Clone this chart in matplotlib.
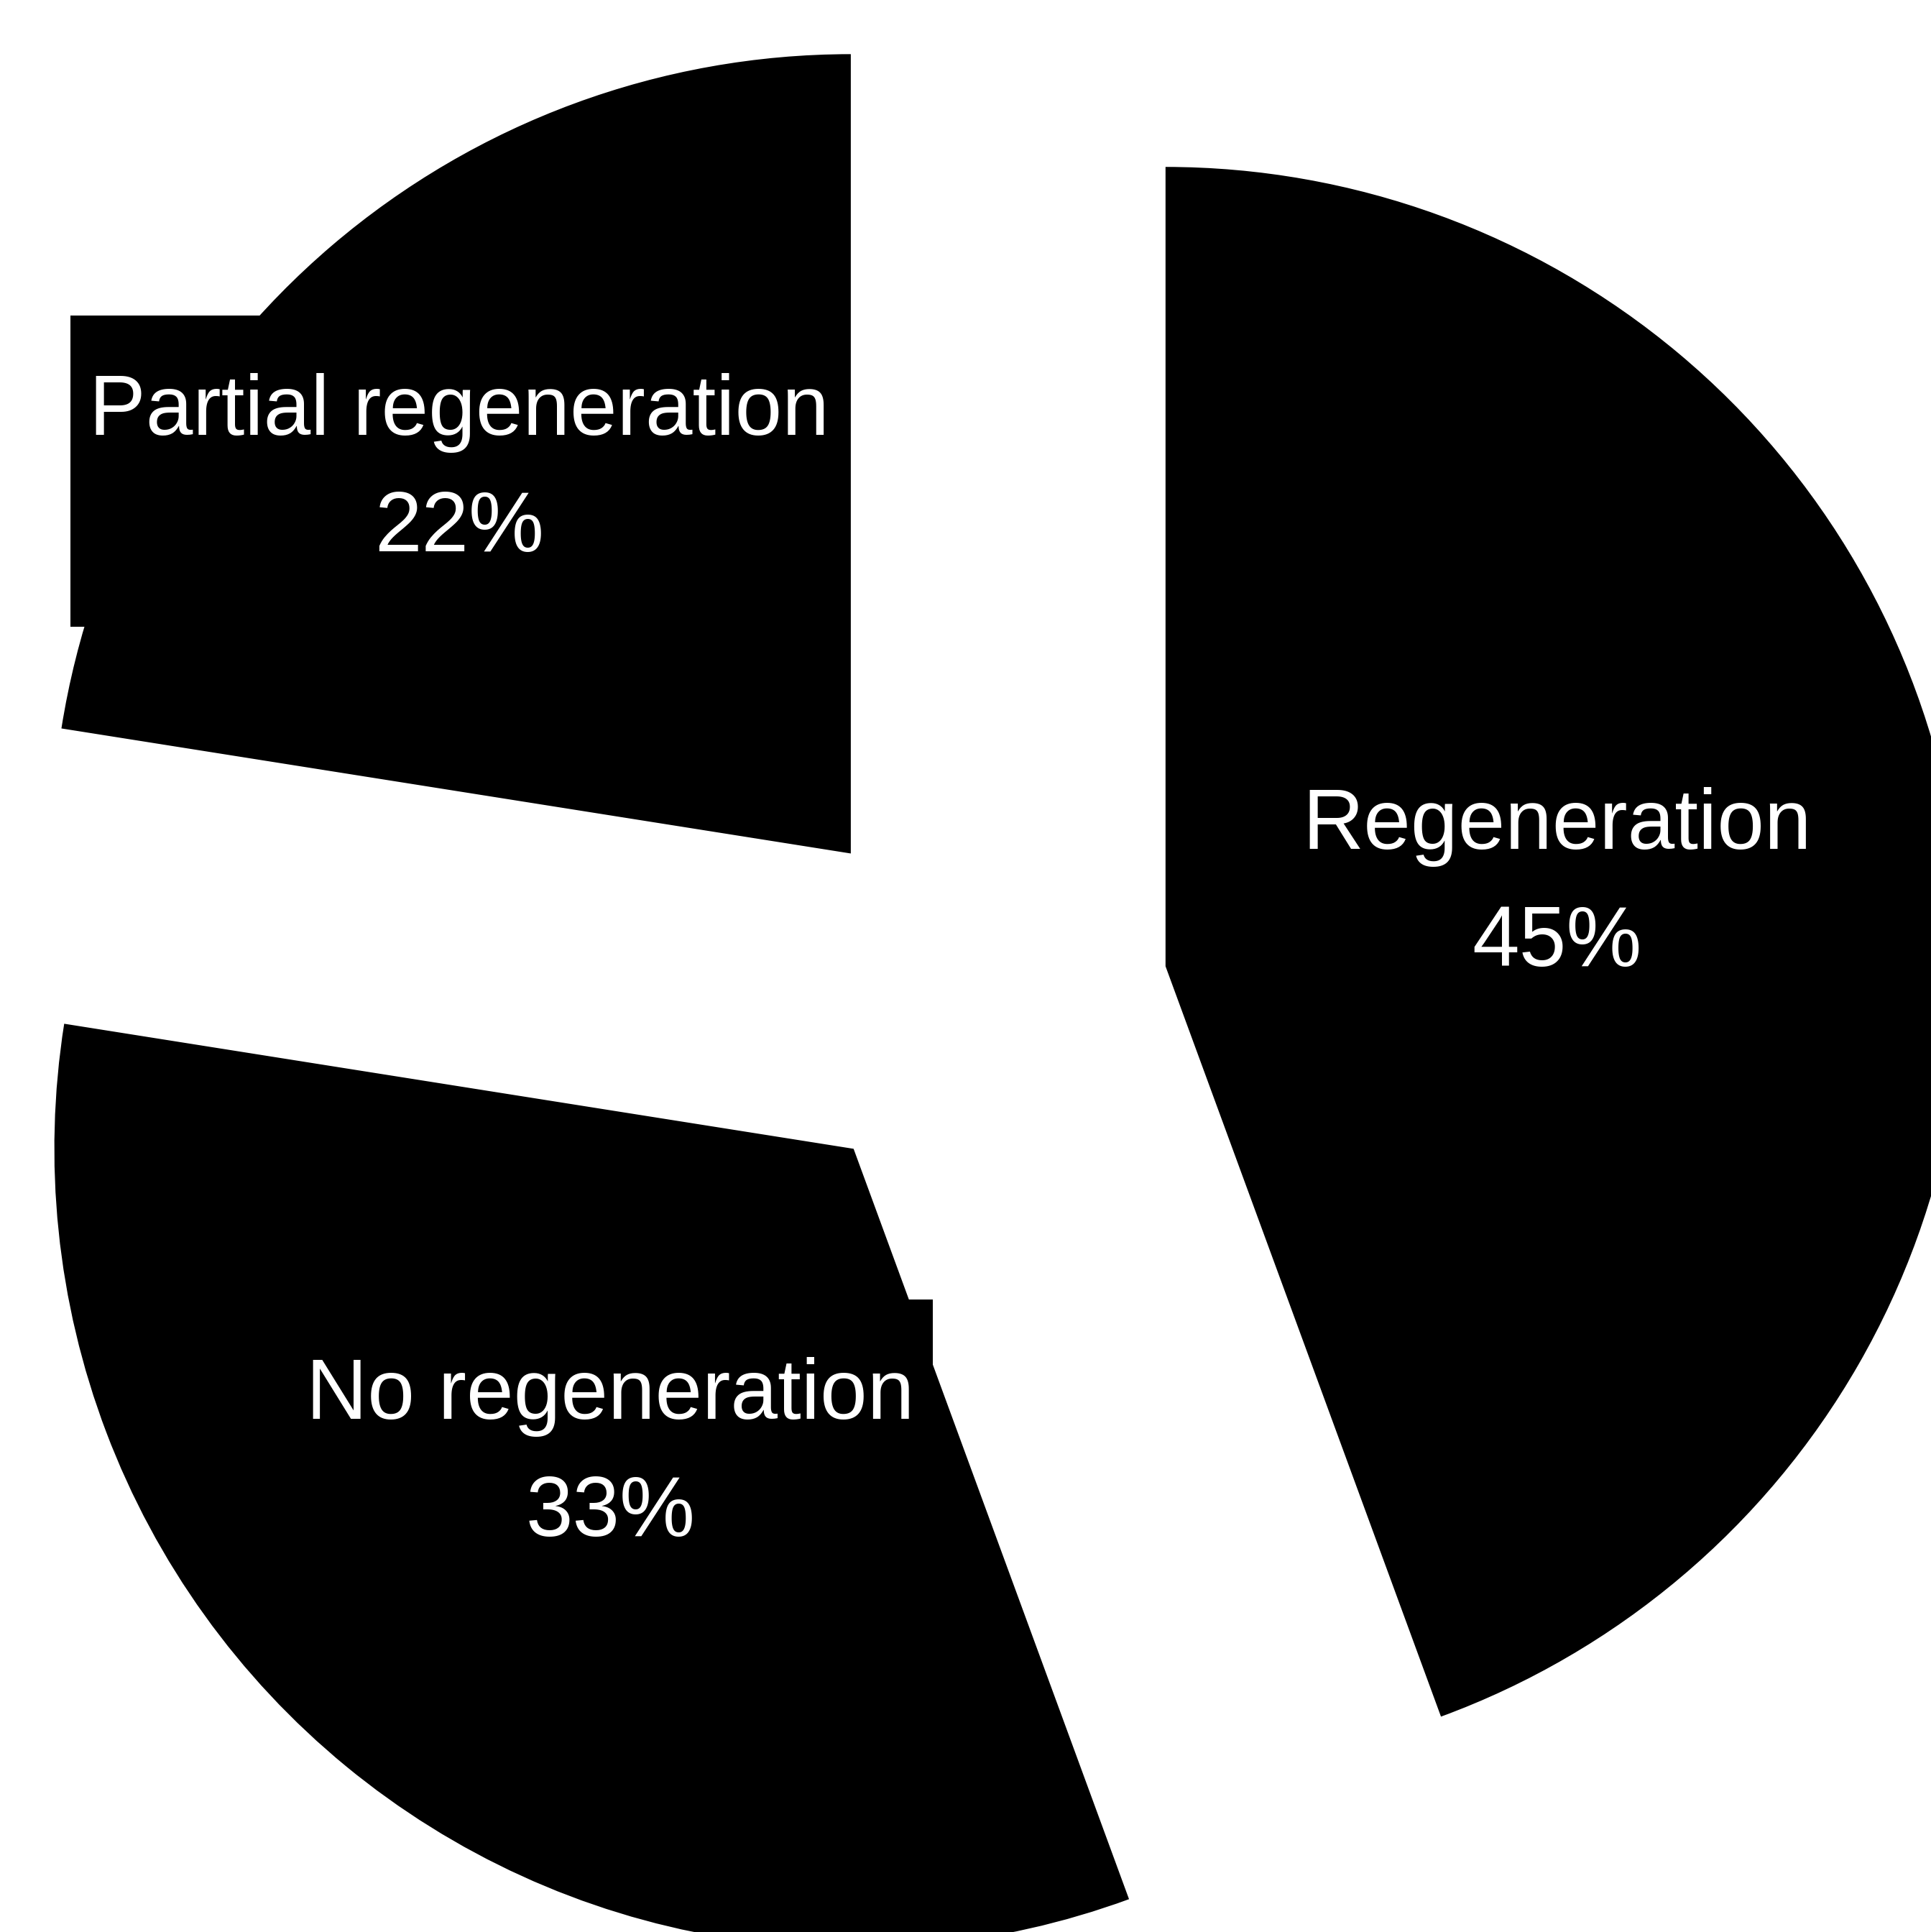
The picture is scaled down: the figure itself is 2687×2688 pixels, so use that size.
import numpy as np
import matplotlib
matplotlib.use("Agg")
import matplotlib.pyplot as plt
from matplotlib.patches import Rectangle

# slice data (clockwise from 12 o'clock), shares
labels = ['Regeneration', 'No regeneration', 'Partial regeneration']
values = [44.4, 33.1, 22.5]
pct_text = ['45%', '33%', '22%']

# label placement: distance from the slice apex and small angle nudge (deg)
label_dist = [0.50, 0.49, 0.685]
label_turn = [1.6, 1, 5.2]

fig = plt.figure(figsize=(26.87, 26.88), dpi=100)
ax = fig.add_axes([0, 0, 1, 1])

wedges, _ = ax.pie(values, startangle=90, counterclock=False,
                   explode=[0.241] * len(values), colors=['black'] * len(values),
                   radius=1, wedgeprops=dict(linewidth=0, zorder=1))

ax.set_xlim(-1.221, 1.195)
ax.set_ylim(-1.166, 1.251)
ax.axis('off')

texts = []
for w, lab, p, d, t in zip(wedges, labels, pct_text, label_dist, label_turn):
    ang = np.deg2rad((w.theta1 + w.theta2) / 2 + t)
    x0, y0 = w.center
    txt = ax.text(x0 + d * np.cos(ang), y0 + d * np.sin(ang), f"{lab}\n{p}",
                  ha='center', va='center', color='white', fontsize=85,
                  family='Liberation Sans', linespacing=1.6, zorder=3)
    texts.append(txt)

# black label boxes (taller padding than wide, like the original)
fig.canvas.draw()
renderer = fig.canvas.get_renderer()
padx, pady = 26, 80   # pixels
inv = ax.transData.inverted()
for txt in texts:
    bb = txt.get_window_extent(renderer)
    (xa, ya), (xb, yb) = inv.transform([(bb.x0 - padx, bb.y0 - pady),
                                        (bb.x1 + padx, bb.y1 + pady)])
    ax.add_patch(Rectangle((xa, ya), xb - xa, yb - ya, fc='black', ec='none', zorder=2))

fig.savefig('out.png', dpi=100, facecolor='white')
